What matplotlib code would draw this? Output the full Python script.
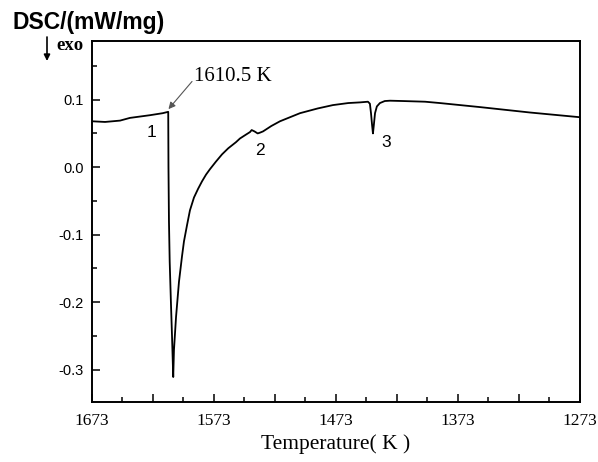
import matplotlib
matplotlib.use("Agg")
import matplotlib.pyplot as plt
from matplotlib.ticker import MultipleLocator, FuncFormatter

# DSC trace (temperature in K, heat flow in mW/mg)
temp = [1673, 1662.3, 1650, 1641.9, 1625.5, 1615, 1610.5,
        1610.3, 1609.9, 1609.3, 1608.3, 1607.4, 1606.4,
        1605.8, 1604.1, 1601.7, 1599.2, 1597.6, 1595.1,
        1592.7, 1589.4, 1586.0, 1582.8, 1579.5, 1576.3, 1571.5,
        1566.4, 1561.3, 1555.0, 1551.7, 1547.0, 1543.5, 1542.1,
        1539.8, 1537.2, 1535.5, 1532.8, 1526.0, 1518.9, 1502.5,
        1488.0, 1475.5, 1463.0, 1453.3, 1446.8, 1445.2, 1444.3,
        1443.4, 1442.7, 1442.0, 1441.0, 1439.5, 1437.0, 1433.0,
        1428.7, 1418.1, 1400.0, 1387.8, 1354.9, 1314.0, 1273]
dsc = [0.068, 0.067, 0.069, 0.073, 0.077, 0.080, 0.082,
       0.000, -0.080, -0.140, -0.200, -0.250, -0.311,
       -0.271, -0.222, -0.170, -0.132, -0.110, -0.086,
       -0.064, -0.045, -0.032, -0.021, -0.011, -0.003, 0.008,
       0.019, 0.028, 0.037, 0.0425, 0.048, 0.052, 0.055,
       0.053, 0.050, 0.051, 0.053, 0.061, 0.068, 0.080,
       0.087, 0.092, 0.095, 0.096, 0.097, 0.094, 0.080,
       0.062, 0.050, 0.062, 0.080, 0.090, 0.095, 0.098,
       0.0985, 0.098, 0.097, 0.095, 0.089, 0.081, 0.074]

peak_labels = ["1", "2", "3"]
peak_temp = [1624, 1535, 1432]
peak_dsc = [0.051, 0.025, 0.036]

onset_temp = 1610.5
onset_text = "1610.5 K"

sans = "Liberation Sans"
serif = "Liberation Serif"

fig = plt.figure(figsize=(5.98, 4.62), dpi=100)
ax = fig.add_axes([0.1538, 0.1299, 0.8161, 0.7814])

ax.plot(temp, dsc, color="black", linewidth=1.3)

ax.set_xlim(1673, 1273)
ax.set_ylim(-0.348, 0.187)

ax.xaxis.set_major_locator(MultipleLocator(50, offset=23))
ax.xaxis.set_minor_locator(MultipleLocator(25, offset=23))
ax.xaxis.set_major_formatter(FuncFormatter(
    lambda v, p: f"{v:.0f}" if round(v - 1273) % 100 == 0 else ""))
ax.yaxis.set_major_locator(MultipleLocator(0.1))
ax.yaxis.set_minor_locator(MultipleLocator(0.05))
ax.yaxis.set_major_formatter(FuncFormatter(lambda v, p: f"{v:.1f}"))

ax.tick_params(axis="both", which="both", direction="in", width=1.1)
ax.tick_params(axis="both", which="major", length=6)
ax.tick_params(axis="both", which="minor", length=3.5)
ax.tick_params(axis="x", pad=8)
ax.tick_params(axis="y", pad=6)
for lab in ax.get_xticklabels():
    lab.set_fontfamily(serif)
    lab.set_fontsize(12.5)
for lab in ax.get_yticklabels():
    lab.set_fontfamily(sans)
    lab.set_fontsize(10.5)
for sp in ax.spines.values():
    sp.set_linewidth(1.4)

ax.set_xlabel("Temperature( K )", fontfamily=serif, fontsize=15.5, labelpad=4)

for lab, t, v in zip(peak_labels, peak_temp, peak_dsc):
    ax.text(t, v, lab, fontfamily=sans, fontsize=12.5, ha="center", va="center")

ax.text(1589.4, 0.135, onset_text, fontfamily=serif, fontsize=15,
        ha="left", va="center")
ax.annotate("", xy=(onset_temp - 0.2, 0.086), xytext=(1591, 0.127),
            arrowprops=dict(arrowstyle="-|>", color="#555555", lw=0.8,
                            mutation_scale=10, shrinkA=0, shrinkB=0))

fig.text(13 / 598, 1 - 22 / 462, "DSC/(mW/mg)", fontfamily=sans,
         fontsize=16.5, fontweight="bold", ha="left", va="center")
fig.text(56 / 598, 1 - 46 / 462, "exo", fontfamily=serif, fontsize=13.5,
         fontweight="bold", ha="left", va="center")
fig.patches.append(matplotlib.patches.FancyArrowPatch(
    (47 / 598, 1 - 37 / 462), (47 / 598, 1 - 61 / 462),
    transform=fig.transFigure, arrowstyle="-|>", mutation_scale=9,
    color="black", lw=1.2, shrinkA=0, shrinkB=0))

fig.savefig("out.png", dpi=100)
